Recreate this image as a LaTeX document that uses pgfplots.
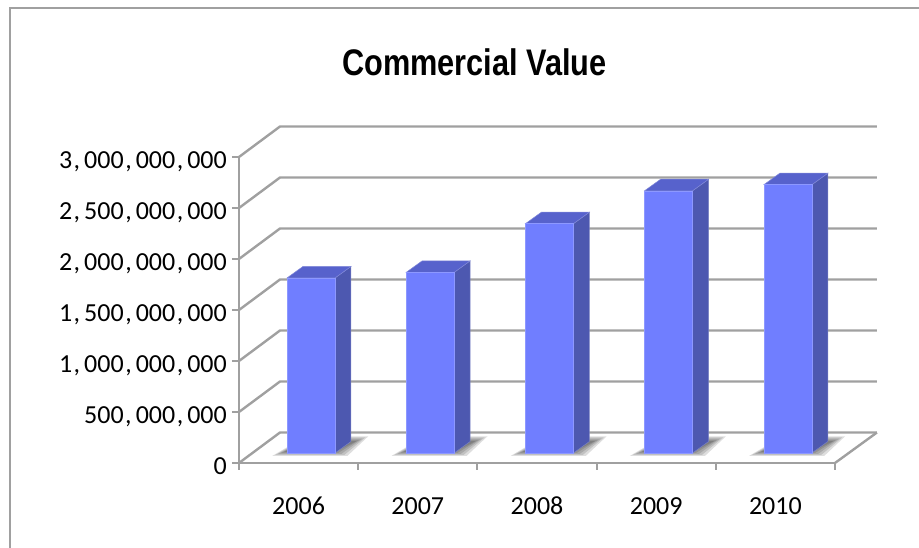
\documentclass[border=0pt]{standalone}
\usepackage{pgfplots}
\pgfplotsset{compat=1.18}
\usepackage{fontspec}
\setmainfont[Numbers=Lining]{Carlito}
\newfontfamily\titlefont{Liberation Sans}
\definecolor{barfront}{HTML}{707EFF}
\definecolor{barside}{HTML}{4D58B0}
\definecolor{bartop}{HTML}{5762CC}
\definecolor{gridgray}{HTML}{A0A0A0}
\definecolor{framegray}{HTML}{A0A0A0}
\newcommand\cm{\kern1.5pt,\kern4pt}
% one bar: x left, x right, x right back, x left back, top, top back (all plain read values)
\newcommand\threedbar[6]{%
  \addplot[draw=barside!75!white,line width=0.5pt,fill=barside] coordinates {(#2,98e6) (#3,211e6) (#3,#6) (#2,#5)} -- cycle;
  \addplot[draw=bartop!75!white,line width=0.5pt,fill=bartop] coordinates {(#1,#5) (#2,#5) (#3,#6) (#4,#6)} -- cycle;
  \addplot[draw=barfront!80!white,line width=0.5pt,fill=barfront] coordinates {(#1,98e6) (#2,98e6) (#2,#5) (#1,#5)} -- cycle;
}
% floor shadow of the bar in category #1: nested layers, so that it fades outwards
\newcommand\floorshadow[1]{%
  \addplot[draw=none,fill=black,fill opacity=0.13] coordinates {(#1+0.280,70e6) (#1+0.910,70e6) (#1+1.085,262e6) (#1+0.560,262e6)} -- cycle;
  \addplot[draw=none,fill=black,fill opacity=0.13] coordinates {(#1+0.305,80e6) (#1+0.885,80e6) (#1+1.060,250e6) (#1+0.560,250e6)} -- cycle;
  \addplot[draw=none,fill=black,fill opacity=0.13] coordinates {(#1+0.330,90e6) (#1+0.860,90e6) (#1+1.035,238e6) (#1+0.560,238e6)} -- cycle;
  \addplot[draw=none,fill=black,fill opacity=0.13] coordinates {(#1+0.355,100e6) (#1+0.835,100e6) (#1+1.010,226e6) (#1+0.560,226e6)} -- cycle;
  \addplot[draw=none,fill=black,fill opacity=0.13] coordinates {(#1+0.380,110e6) (#1+0.810,110e6) (#1+0.985,214e6) (#1+0.560,214e6)} -- cycle;
}
\begin{document}
\begin{tikzpicture}[x=1pt,y=1pt]
\path[use as bounding box] (-239,-85) rectangle (680,463);
\draw[framegray,line width=2.4pt] (-229,-90) -- (-229,455) -- (690,455);
\node[font=\titlefont\bfseries\fontsize{37}{42}\selectfont,anchor=base,inner sep=0pt] at (235.5,387.3) {\scalebox{0.83}[1]{Commercial Value}};
\begin{axis}[
  at={(0pt,0pt)},anchor=origin,
  scale only axis,width=596pt,height=306pt,
  xmin=0,xmax=5,ymin=0,ymax=3000000000,
  clip=false,
  scaled y ticks=false,
  axis y line*=left,axis x line*=bottom,
  axis line style={gridgray,line width=2.4pt,-},
  tick style={gridgray,line width=2pt},
  tick align=outside,
  major tick length=7pt,minor tick length=7pt,
  xtick={0.5,1.5,2.5,3.5,4.5},
  xticklabels={2006,2007,2008,2009,2010},
  minor xtick={0,1,2,3,4,5},
  x tick style={draw=none},
  minor x tick style={gridgray,line width=2pt,draw=gridgray},
  ytick={0,500000000,1000000000,1500000000,2000000000,2500000000,3000000000},
  yticklabels={0,{500\cm000\cm000},{1\cm000\cm000\cm000},{1\cm500\cm000\cm000},{2\cm000\cm000\cm000},{2\cm500\cm000\cm000},{3\cm000\cm000\cm000}},
  tick label style={font=\fontsize{26}{30}\selectfont,text=black},
  xticklabel style={anchor=north,text height=17pt,text depth=0pt,inner sep=0pt,yshift=-27pt},
  yticklabel style={anchor=east,text height=17pt,text depth=0pt,inner ysep=0pt,inner xsep=0pt,xshift=-5pt,yshift=-3pt},
]
% gridlines: side wall and back wall
\addplot[gridgray,line width=2.4pt] coordinates {(0,0) (0.344,299e6) (5.352,299e6)};
\addplot[gridgray,line width=2.4pt] coordinates {(5,0) (5.352,299e6)};
\addplot[gridgray,line width=2.4pt] coordinates {(0,500e6) (0.344,799e6) (5.352,799e6)};
\addplot[gridgray,line width=2.4pt] coordinates {(0,1000e6) (0.344,1299e6) (5.352,1299e6)};
\addplot[gridgray,line width=2.4pt] coordinates {(0,1500e6) (0.344,1799e6) (5.352,1799e6)};
\addplot[gridgray,line width=2.4pt] coordinates {(0,2000e6) (0.344,2299e6) (5.352,2299e6)};
\addplot[gridgray,line width=2.4pt] coordinates {(0,2500e6) (0.344,2799e6) (5.352,2799e6)};
\addplot[gridgray,line width=2.4pt] coordinates {(0,3000e6) (0.344,3299e6) (5.352,3299e6)};
% floor shadows
\floorshadow{0}
\floorshadow{1}
\floorshadow{2}
\floorshadow{3}
\floorshadow{4}
% bars
\threedbar{0.4027}{0.8054}{0.9396}{0.5369}{1814e6}{1927e6}
\threedbar{1.4027}{1.8054}{1.9396}{1.5369}{1869e6}{1982e6}
\threedbar{2.4027}{2.8054}{2.9396}{2.5369}{2346e6}{2459e6}
\threedbar{3.4027}{3.8054}{3.9396}{3.5369}{2669e6}{2782e6}
\threedbar{4.4027}{4.8054}{4.9396}{4.5369}{2728e6}{2841e6}
\end{axis}
\end{tikzpicture}
\end{document}
